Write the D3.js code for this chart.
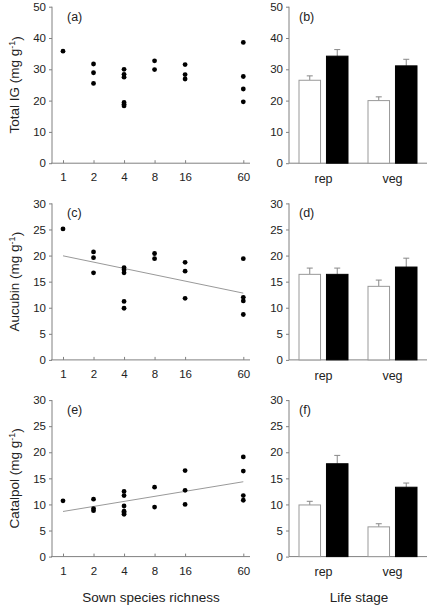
<!DOCTYPE html>
<html><head><meta charset="utf-8">
<script src="https://cdn.jsdelivr.net/npm/d3@7"></script>
<style>
body{margin:0;background:#fff;}
svg{display:block;font-family:"Liberation Sans",Arial,sans-serif;}
</style></head>
<body><svg id="c" width="430" height="609"></svg>
<script>
// ---- data ----
const richnessTicks = [1, 2, 4, 8, 16, 60];
const stages = ["rep", "veg"];

const totalIGx = [1, 2,2,2, 4,4,4,4,4,4, 8,8, 16,16,16, 60,60,60,60];
const totalIGy = [35.8, 31.7,28.9,25.5, 30.0,28.4,27.5,19.4,18.8,18.3, 32.7,29.9, 31.5,28.3,26.9, 38.6,27.7,23.7,19.6];

const aucubinX = [1, 2,2,2, 4,4,4,4,4, 8,8, 16,16,16, 60,60,60,60];
const aucubinY = [25.1, 20.7,19.6,16.7, 17.7,17.3,16.7,11.2,9.9, 20.4,19.4, 18.7,17.0,11.8, 19.4,12.0,11.3,8.7];
const aucubinFit = [[1, 19.95], [60, 12.8]];

const catalpolX = [1, 2,2,2, 4,4,4,4,4,4, 8,8, 16,16,16, 60,60,60,60];
const catalpolY = [10.7, 11.0,9.2,8.8, 12.5,11.7,9.7,8.7,8.4,8.1, 13.3,9.5, 16.5,12.7,10.0, 19.1,16.4,11.7,10.8];
const catalpolFit = [[1, 8.65], [60, 14.35]];

const totalIGOpen = [26.5, 20.0], totalIGOpenSE = [1.4, 1.2];
const totalIGFilled = [34.2, 31.1], totalIGFilledSE = [2.1, 2.1];
const aucubinOpen = [16.4, 14.1], aucubinOpenSE = [1.2, 1.2];
const aucubinFilled = [16.4, 17.8], aucubinFilledSE = [1.2, 1.7];
const catalpolOpen = [9.9, 5.7], catalpolOpenSE = [0.7, 0.6];
const catalpolFilled = [17.8, 13.3], catalpolFilledSE = [1.6, 0.8];

const yTicksIG = [0, 10, 20, 30, 40, 50];
const yTicks30 = [0, 5, 10, 15, 20, 25, 30];

// ---- layout ----
const svg = d3.select("#c");
const axisCol = "#808080", textCol = "#222";
const rowTop = [6.7, 203.4, 400.1], rowH = 156.5;
const leftAxisX = 52, leftEnd = 250;
const rightAxisX = 289, rightEnd = 427;

function styleAxis(g){
  g.select(".domain").remove();
  g.selectAll(".tick line").attr("stroke", axisCol);
  g.selectAll(".tick text").attr("fill", textCol).style("font-size", "11.5px").style("font-family", "Liberation Sans, Arial, sans-serif");
}

function yAxis(x, y, ticks){
  const g = svg.append("g").attr("transform", `translate(${x},0)`)
    .call(d3.axisLeft(y).tickValues(ticks).tickSize(3).tickPadding(3).tickSizeOuter(0));
  styleAxis(g);
  svg.append("line").attr("x1", x).attr("x2", x).attr("y1", y.range()[1]).attr("y2", y.range()[0])
    .attr("stroke", axisCol).attr("stroke-width", 1);
}

function scatterPanel(row, xs, ys, maxY, ticks, fit, label, ylab){
  const top = rowTop[row];
  const y = d3.scaleLinear().domain([0, maxY]).range([top + rowH, top]);
  const x = d3.scaleLog().base(2).domain([1, 60]).range([63, 243.3]);
  yAxis(leftAxisX, y, ticks);
  const bottom = top + rowH;
  svg.append("line").attr("x1", leftAxisX - 1).attr("x2", leftEnd).attr("y1", bottom).attr("y2", bottom)
    .attr("stroke", axisCol);
  const gx = svg.append("g").attr("transform", `translate(0,${bottom})`)
    .call(d3.axisBottom(x).tickValues(richnessTicks).tickFormat(d3.format("d")).tickSize(-3).tickPadding(10));
  styleAxis(gx);
  if (fit) {
    svg.append("line").attr("x1", x(fit[0][0])).attr("y1", y(fit[0][1]))
      .attr("x2", x(fit[1][0])).attr("y2", y(fit[1][1]))
      .attr("stroke", "#999").attr("stroke-width", 1);
  }
  svg.append("g").selectAll("circle").data(xs.map((d, i) => [d, ys[i]])).join("circle")
    .attr("cx", d => x(d[0])).attr("cy", d => y(d[1])).attr("r", 2.4).attr("fill", "#000");
  svg.append("text").attr("x", 67).attr("y", top + 14).attr("fill", textCol)
    .style("font-size", "12.5px").text(label);
  const t = svg.append("text").attr("transform", `translate(19,${top + rowH / 2}) rotate(-90)`)
    .attr("text-anchor", "middle").attr("fill", textCol).style("font-size", "13.5px");
  t.append("tspan").text(ylab + " (mg g");
  t.append("tspan").attr("dy", "-0.5em").style("font-size", "9px").text("-1");
  t.append("tspan").attr("dy", "0.5em").text(")");
}

function barPanel(row, open, openSE, filled, filledSE, maxY, ticks, label){
  const top = rowTop[row];
  const y = d3.scaleLinear().domain([0, maxY]).range([top + rowH, top]);
  const x = d3.scaleBand().domain(stages).range([rightAxisX, rightEnd]).padding(0);
  const inner = d3.scaleBand().domain(["open", "filled"]).range([-25, 25]).paddingInner(0.18);
  yAxis(rightAxisX, y, ticks);
  const bottom = top + rowH;
  svg.append("line").attr("x1", rightAxisX).attr("x2", rightEnd).attr("y1", bottom).attr("y2", bottom)
    .attr("stroke", axisCol);
  const gx = svg.append("g").attr("transform", `translate(0,${bottom})`)
    .call(d3.axisBottom(x).tickSize(0).tickPadding(11));
  styleAxis(gx);
  gx.selectAll(".tick text").style("font-size", "12.5px");
  const data = [];
  stages.forEach((s, i) => {
    data.push({s, k: "open", v: open[i], e: openSE[i]});
    data.push({s, k: "filled", v: filled[i], e: filledSE[i]});
  });
  const cx = d => x(d.s) + x.bandwidth() / 2 + inner(d.k);
  // error bars
  const eg = svg.append("g");
  data.forEach(d => {
    const mx = cx(d) + inner.bandwidth() / 2;
    eg.append("line").attr("x1", mx).attr("x2", mx).attr("y1", y(d.v)).attr("y2", y(d.v + d.e))
      .attr("stroke", "#888");
    eg.append("line").attr("x1", mx - 3).attr("x2", mx + 3).attr("y1", y(d.v + d.e)).attr("y2", y(d.v + d.e))
      .attr("stroke", "#888");
  });
  svg.append("g").selectAll("rect").data(data).join("rect")
    .attr("x", d => cx(d) + 0.5).attr("y", d => y(d.v))
    .attr("width", inner.bandwidth() - 1).attr("height", d => y(0) - y(d.v))
    .attr("fill", d => d.k === "open" ? "#fff" : "#000")
    .attr("stroke", d => d.k === "open" ? "#999" : "#000").attr("stroke-width", 1);
  svg.append("text").attr("x", 299).attr("y", top + 14).attr("fill", textCol)
    .style("font-size", "12.5px").text(label);
}

scatterPanel(0, totalIGx, totalIGy, 50, yTicksIG, null, "(a)", "Total IG");
scatterPanel(1, aucubinX, aucubinY, 30, yTicks30, aucubinFit, "(c)", "Aucubin");
scatterPanel(2, catalpolX, catalpolY, 30, yTicks30, catalpolFit, "(e)", "Catalpol");

barPanel(0, totalIGOpen, totalIGOpenSE, totalIGFilled, totalIGFilledSE, 50, yTicksIG, "(b)");
barPanel(1, aucubinOpen, aucubinOpenSE, aucubinFilled, aucubinFilledSE, 30, yTicks30, "(d)");
barPanel(2, catalpolOpen, catalpolOpenSE, catalpolFilled, catalpolFilledSE, 30, yTicks30, "(f)");

svg.append("text").attr("x", 151).attr("y", 602).attr("text-anchor", "middle").attr("fill", textCol)
  .style("font-size", "13.5px").text("Sown species richness");
svg.append("text").attr("x", 359).attr("y", 602).attr("text-anchor", "middle").attr("fill", textCol)
  .style("font-size", "13.5px").text("Life stage");
</script></body></html>
